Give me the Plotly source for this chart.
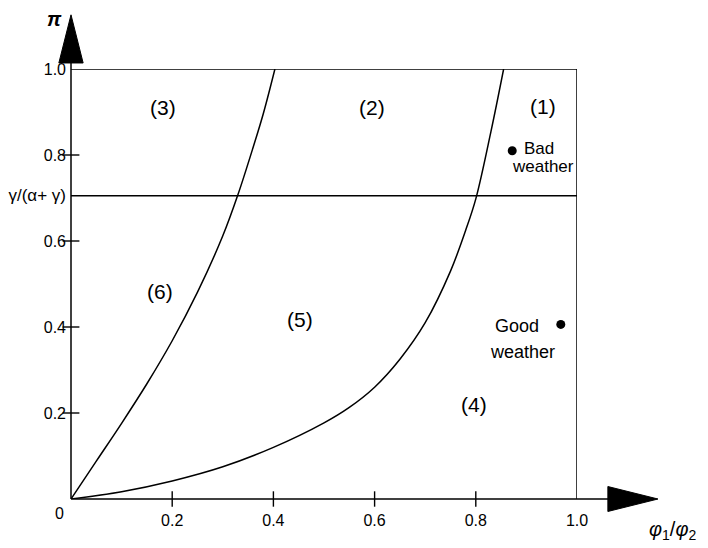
import plotly.graph_objects as go

# ---- data ----
boundary_a_phi = [0.0, 0.05, 0.10, 0.15, 0.20, 0.25, 0.30, 0.33, 0.36, 0.38, 0.403]
boundary_a_pi = [0.0, 0.088, 0.176, 0.268, 0.368, 0.481, 0.612, 0.708, 0.818, 0.896, 1.0]

boundary_b_phi = [0.0, 0.10, 0.20, 0.30, 0.40, 0.50, 0.55, 0.60, 0.65, 0.70,
                  0.75, 0.78, 0.80, 0.83, 0.855]
boundary_b_pi = [0.0, 0.017, 0.042, 0.075, 0.120, 0.177, 0.213, 0.260, 0.325, 0.410,
                 0.530, 0.625, 0.698, 0.855, 1.0]

gamma_ratio = 0.705  # gamma/(alpha+gamma)

region_labels = ["(1)", "(2)", "(3)", "(4)", "(5)", "(6)"]
region_phi = [0.933, 0.595, 0.182, 0.796, 0.453, 0.176]
region_pi = [0.912, 0.910, 0.910, 0.219, 0.418, 0.483]

weather_names = ["Bad weather", "Good weather"]
weather_phi = [0.872, 0.968]
weather_pi = [0.810, 0.406]

x_tickvals = [0.2, 0.4, 0.6, 0.8, 1.0]
x_ticktext = ["0.2", "0.4", "0.6", "0.8", "1.0"]
y_tickvals = [0.2, 0.4, 0.6, gamma_ratio, 0.8, 1.0]
y_ticktext = ["0.2", "0.4", "0.6",
              "<span style=\"font-size:17px\">\u03b3/(\u03b1+ \u03b3)</span>",
              "0.8", "1.0"]
tick_marks = [0.2, 0.4, 0.6, 0.8]

FONT = "Liberation Sans, Arial, Helvetica, sans-serif"
LW = 1.5

fig = go.Figure()

# boundary curves
for xs, ys in [(boundary_a_phi, boundary_a_pi), (boundary_b_phi, boundary_b_pi)]:
    fig.add_trace(go.Scatter(x=xs, y=ys, mode="lines",
                             line=dict(color="black", width=LW, shape="spline", smoothing=1.0),
                             hoverinfo="skip", showlegend=False, cliponaxis=False))

# horizontal line gamma/(alpha+gamma)
fig.add_trace(go.Scatter(x=[0, 1], y=[gamma_ratio, gamma_ratio], mode="lines",
                         line=dict(color="black", width=LW),
                         hoverinfo="skip", showlegend=False, cliponaxis=False))

# weather points
fig.add_trace(go.Scatter(x=weather_phi, y=weather_pi, mode="markers",
                         marker=dict(color="black", size=9),
                         text=weather_names, hoverinfo="text",
                         showlegend=False, cliponaxis=False))

# crossing tick marks
fig.add_trace(go.Scatter(x=tick_marks, y=[0] * len(tick_marks), mode="markers",
                         marker=dict(symbol="line-ns", size=11,
                                     line=dict(color="black", width=1.4)),
                         hoverinfo="skip", showlegend=False, cliponaxis=False))
fig.add_trace(go.Scatter(x=[0] * len(tick_marks), y=tick_marks, mode="markers",
                         marker=dict(symbol="line-ew", size=12,
                                     line=dict(color="black", width=1.4)),
                         hoverinfo="skip", showlegend=False, cliponaxis=False))

shapes = [
    # box top and right
    dict(type="line", xref="x", yref="y", x0=0, y0=1, x1=1, y1=1,
         line=dict(color="black", width=LW)),
    dict(type="line", xref="x", yref="y", x0=1, y0=0, x1=1, y1=1,
         line=dict(color="black", width=LW)),
    # axes with extensions
    dict(type="line", xref="paper", yref="paper", x0=0, y0=0, x1=1.07, y1=0,
         line=dict(color="black", width=LW)),
    dict(type="line", xref="paper", yref="paper", x0=0, y0=0, x1=0, y1=1.02,
         line=dict(color="black", width=LW)),
    # arrow heads
    dict(type="path", xref="paper", yref="paper",
         path="M 1.061 0.029 L 1.160 0 L 1.061 -0.029 Z",
         fillcolor="black", line=dict(color="black", width=1)),
    dict(type="path", xref="paper", yref="paper",
         path="M -0.024 1.014 L 0 1.126 L 0.024 1.014 Z",
         fillcolor="black", line=dict(color="black", width=1)),
]

annotations = []
for lab, xx, yy in zip(region_labels, region_phi, region_pi):
    annotations.append(dict(x=xx, y=yy, xref="x", yref="y", text=lab, showarrow=False,
                            font=dict(family=FONT, size=21, color="black")))

# weather labels
annotations += [
    dict(x=weather_phi[0], y=weather_pi[0], xref="x", yref="y", text="Bad",
         showarrow=False, xanchor="left", yanchor="middle", xshift=10, yshift=2,
         font=dict(family=FONT, size=17, color="black")),
    dict(x=weather_phi[0], y=weather_pi[0], xref="x", yref="y", text="weather",
         showarrow=False, xanchor="left", yanchor="middle", xshift=-2, yshift=-16,
         font=dict(family=FONT, size=17, color="black")),
    dict(x=weather_phi[1], y=weather_pi[1], xref="x", yref="y", text="Good",
         showarrow=False, xanchor="right", yanchor="middle", xshift=-20, yshift=-2,
         font=dict(family=FONT, size=18, color="black")),
    dict(x=weather_phi[1], y=weather_pi[1], xref="x", yref="y", text="weather",
         showarrow=False, xanchor="right", yanchor="middle", xshift=-4, yshift=-28,
         font=dict(family=FONT, size=18, color="black")),
]

# origin "0"
annotations.append(dict(x=0, y=0, xref="x", yref="y", text="0", showarrow=False,
                        xshift=-12, yshift=-14,
                        font=dict(family=FONT, size=16, color="black")))
# axis titles
annotations.append(dict(x=0, y=1, xref="paper", yref="paper",
                        text="<b><i>\u03c0</i></b>", showarrow=False,
                        xanchor="center", yanchor="middle", xshift=-17, yshift=50,
                        font=dict(family=FONT, size=20, color="black")))
annotations.append(dict(x=1, y=0, xref="paper", yref="paper",
                        text="<i>\u03c6</i><sub>1</sub>/<i>\u03c6</i><sub>2</sub>",
                        showarrow=False, xanchor="center", yanchor="middle",
                        xshift=95, yshift=-31,
                        font=dict(family=FONT, size=20, color="black")))

# The page body adds an 8px offset, so the figure is 8px smaller than the window.
fig.update_layout(
    width=700, height=540,
    margin=dict(l=63, r=131, t=61, b=49, autoexpand=False),
    paper_bgcolor="white", plot_bgcolor="white",
    showlegend=False,
    shapes=shapes, annotations=annotations,
    xaxis=dict(range=[0, 1], showgrid=False, zeroline=False, showline=False,
               tickvals=x_tickvals, ticktext=x_ticktext, ticks="",
               ticklabelstandoff=10, automargin=False,
               tickfont=dict(family=FONT, size=16, color="black"), fixedrange=True),
    yaxis=dict(range=[0, 1], showgrid=False, zeroline=False, showline=False,
               tickvals=y_tickvals, ticktext=y_ticktext, ticks="",
               ticklabelstandoff=4, automargin=False,
               tickfont=dict(family=FONT, size=16, color="black"), fixedrange=True),
)

fig.write_html("out.html")
